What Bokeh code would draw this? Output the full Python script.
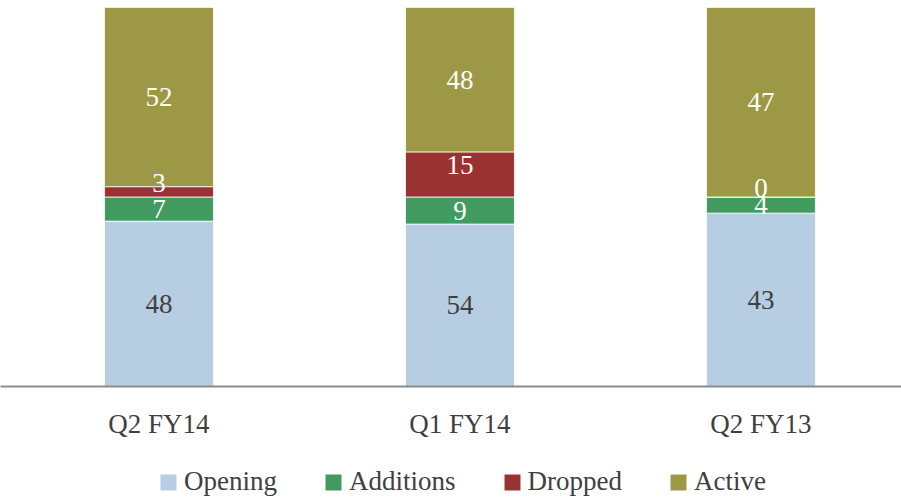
import numpy as np
from bokeh.plotting import figure
from bokeh.layouts import column
from bokeh.models import (ColumnDataSource, Range1d, FixedTicker, Legend, LegendItem)
from bokeh.core.properties import value
from bokeh.embed import file_html
from bokeh.resources import INLINE

# ---- data ----
categories = ["Q2 FY14", "Q1 FY14", "Q2 FY13"]
opening = [48, 54, 43]
additions = [7, 9, 4]
dropped = [3, 15, 0]
active = [52, 48, 47]
series_names = ["Opening", "Additions", "Dropped", "Active"]

colors = ["#B7CDE1", "#419B60", "#9B3232", "#9D9845"]
label_colors = ["#404040", "white", "white", "white"]
label_offsets = [0, 0, -9, 0]   # px, nudge to avoid overlap (as in original)
FONT = "Liberation Serif"
TEXT = "#404040"

series = [opening, additions, dropped, active]
vals = np.array(series, dtype=float)
totals = vals.sum(axis=0)
shares = vals / totals  # 100% stacked

xs = [i + 0.5 for i in range(len(categories))]

data = {"x": xs}
for name, sh in zip(series_names, shares):
    data[name] = list(sh)
src = ColumnDataSource(data)

p = figure(width=901, height=450, output_backend="svg", toolbar_location=None,
           x_range=Range1d(-0.0266, 2.967), y_range=Range1d(0, 1),
           min_border_left=0, min_border_right=0, min_border_top=7,
           min_border_bottom=64, outline_line_color=None)
p.grid.visible = False
p.yaxis.visible = False

renderers = p.vbar_stack(series_names, x="x", width=0.362, source=src,
                         fill_color=colors, line_color="white", line_width=0.8)

# labels
lx, ly, lt, lc, lo = [], [], [], [], []
cum = np.zeros(len(categories))
for k, (name, sh) in enumerate(zip(series_names, shares)):
    mids = cum + sh / 2
    cum = cum + sh
    for i in range(len(categories)):
        lx.append(xs[i]); ly.append(mids[i]); lt.append(str(series[k][i]))
        lc.append(label_colors[k]); lo.append(label_offsets[k])
lsrc = ColumnDataSource(dict(x=lx, y=ly, text=lt, color=lc, off=lo))
p.text(x="x", y="y", text="text", source=lsrc, text_color="color", y_offset="off",
       text_align="center", text_baseline="middle",
       text_font=value(FONT), text_font_size="27px")

ax = p.xaxis[0]
ax.ticker = FixedTicker(ticks=xs)
ax.major_label_overrides = {x: c for x, c in zip(xs, categories)}
ax.major_tick_line_color = None
ax.minor_tick_line_color = None
ax.major_tick_in = 0
ax.major_tick_out = 0
ax.axis_line_color = "#8C8C8C"
ax.axis_line_width = 2
ax.major_label_standoff = 22
ax.major_label_text_font = FONT
ax.major_label_text_font_size = "27px"
ax.major_label_text_color = TEXT

# legend strip (separate small figure below the chart; its bars lie outside its view)
pl = figure(width=901, height=50, output_backend="svg", toolbar_location=None,
            x_range=Range1d(-0.0266, 2.967), y_range=Range1d(2, 3),
            min_border=0, outline_line_color=None)
pl.axis.visible = False
pl.grid.visible = False
leg_r = pl.vbar_stack(series_names, x="x", width=0.362, source=src,
                      fill_color=colors, line_color=None)
legend = Legend(items=[LegendItem(label=n, renderers=[r]) for n, r in zip(series_names, leg_r)],
                orientation="horizontal", location=(158, 3),
                glyph_width=20, glyph_height=20, label_standoff=6, spacing=46,
                padding=0, margin=0, border_line_color=None, background_fill_alpha=0,
                label_text_font=FONT, label_text_font_size="27px", label_text_color=TEXT)
pl.add_layout(legend, "center")

layout = column(p, pl, spacing=0)
open("out.html", "w").write(file_html(layout, INLINE))
